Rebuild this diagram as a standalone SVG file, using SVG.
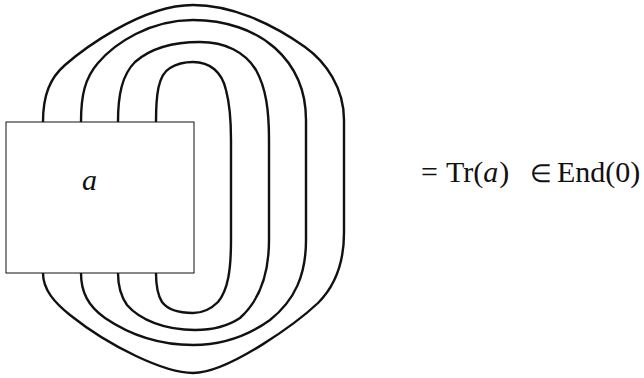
<svg xmlns="http://www.w3.org/2000/svg" width="644" height="378" viewBox="0 0 644 378">
<style>
.wire{fill:none;stroke:#111;stroke-width:2.4;stroke-linecap:round;stroke-linejoin:round}
.box{fill:#fff;stroke:#111;stroke-width:1}
.t{font-family:"Liberation Serif","Times New Roman",serif;font-size:30px;fill:#111}
.i{font-style:italic}
</style>
<rect width="644" height="378" fill="#fff"/>
<g id="connectors">
<path class="wire" d="M43,122 C43,95 50,78 65,65 C80,52 140,5 193,5 C230,5 270,22 305,47 C326,62 344,88 344,120 L344,233 C344,262 336,285 318,303 C300,320 230,373 193,373 C165,373 110,347 70,315 C55,303 43,290 43,273"/>
<path class="wire" d="M81,122 C81,95 85,78 98,63 C115,43 150,20 193,20 C225,20 255,30 275,48 C295,66 306,90 306,120 L306,240 C306,275 295,300 270,320 C245,338 220,345 193,345 C160,345 130,335 105,318 C88,306 81,292 81,273"/>
<path class="wire" d="M118,122 C118,95 122,75 135,62 C152,47 175,42 200,42 C225,42 245,52 256,70 C266,88 269,110 269,140 L269,240 C269,275 260,300 240,318 C225,328 210,330 195,330 C165,330 140,320 127,305 C120,295 118,285 118,273"/>
<path class="wire" d="M156,122 C156,95 158,75 170,68 C178,63 186,62 193,62 C210,62 222,72 226,90 C230,105 231,125 231,140 L231,240 C231,270 228,290 218,302 C210,310 202,313 193,313 C180,313 168,310 162,302 C157,294 156,285 156,273"/>
</g>
<g id="node-a">
<rect class="box" x="6" y="122" width="188" height="151"/>
<text class="t i" x="82" y="190">a</text>
</g>
<g id="label">
<text class="t" y="182"><tspan x="421">=</tspan><tspan x="446">Tr(</tspan><tspan class="i">a</tspan><tspan dx="1">)</tspan><tspan x="530" font-size="25">∈</tspan><tspan x="557">End(0)</tspan></text>
</g>
</svg>
